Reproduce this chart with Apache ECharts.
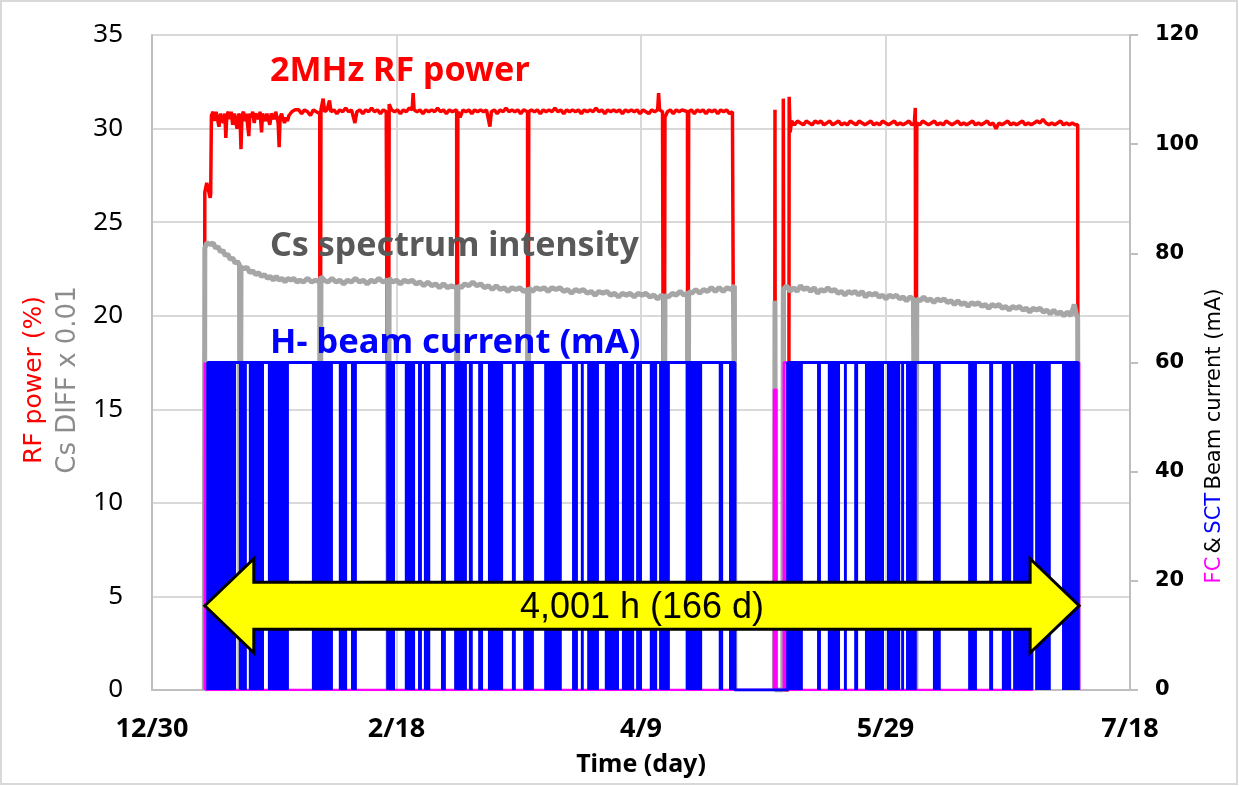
<!DOCTYPE html>
<html><head><meta charset="utf-8">
<script src="https://cdn.jsdelivr.net/npm/echarts@6/dist/echarts.min.js"></script>
<style>html,body{margin:0;padding:0;background:#fff}#c{width:1239px;height:786px}</style>
</head><body><div id="c"></div>
<script>
// x values are days after 12/30
const xTickLabels = ['12/30','2/18','4/9','5/29','7/18'];
const leftTicks = [0,5,10,15,20,25,30,35];
const rightTicks = [0,20,40,60,80,100,120];

// 2MHz RF power (%)
const rfPower = [
[10.7,0],[10.8,26.6],[11.2,27.1],[11.6,27.0],[11.9,26.3],[12.0,26.5],
[12.15,30.7],[12.5,30.9],[12.8,30.4],[13.1,30.9],[13.4,30.8],[13.7,30.1],[14.0,30.8],[14.3,30.9],[14.6,30.3],[14.9,30.8],[15.1,29.5],[15.3,30.7],[15.6,30.9],[15.9,30.5],[16.2,30.9],[16.5,30.2],[16.8,30.8],[17.1,30.9],[17.4,30.0],[17.7,30.8],[18.0,30.6],[18.2,28.9],[18.4,30.7],[18.7,30.9],[19.0,30.4],[19.3,30.8],[19.6,30.9],[19.8,29.6],[20.0,30.8],[20.3,30.6],[20.6,30.9],[20.9,30.3],[21.2,30.8],[21.5,30.9],[21.8,30.5],[22.1,30.9],[22.4,29.8],[22.6,30.8],[22.9,30.9],[23.2,30.4],[23.5,30.8],[23.8,30.9],[24.1,30.2],[24.4,30.8],[24.7,30.9],[25.0,30.5],[25.3,30.9],[25.6,30.8],[25.8,30.3],[26.0,29.0],[26.2,30.6],[26.5,30.8],[26.8,30.5],[27.1,30.3],[27.4,30.6],[27.7,30.4],[28.0,30.7],[28.3,30.6],[28.6,30.9],[28.9,30.8],[29.2,31.0],[29.5,30.9],
[30.0,31.0],[30.6,30.8],[31.2,31.0],[31.8,30.9],[32.4,30.7],[33.0,31.0],[33.6,30.9],[34.3,30.8],
[34.35,0],[34.5,0],[34.55,31.0],[35.0,31.6],[35.3,30.9],[35.8,31.0],[36.3,31.5],[36.6,30.9],[37.2,31.0],[37.8,30.8],[38.4,31.0],[39.0,30.9],[39.6,31.1],[40.2,30.9],[40.8,31.0],[41.5,30.3],[41.9,30.9],[42.5,31.0],[43.1,30.8],[43.7,31.0],[44.3,30.9],[44.9,31.1],[45.5,30.9],[46.1,31.0],[46.7,30.8],[47.3,31.0],[47.9,30.9],[48.25,31.0],
[48.3,0],[48.45,0],[48.5,31.3],[49.0,31.0],[49.6,30.9],[50.2,31.0],[50.8,30.8],[51.4,31.0],[52.0,30.9],[52.6,31.1],[53.2,31.0],[53.4,31.9],[53.6,31.0],[54.2,30.9],[54.8,31.0],[55.4,30.8],[56.0,31.0],[56.6,30.9],[57.2,31.0],[57.8,30.9],[58.4,31.1],[59.0,30.9],[59.6,31.0],[60.2,30.8],[60.8,31.0],[61.4,30.9],[62.3,31.0],
[62.35,0],[62.5,0],[62.55,30.9],[63.0,30.6],[63.6,31.0],[64.2,30.9],[64.8,31.0],[65.4,30.8],[66.0,31.0],[66.6,30.9],[67.2,31.0],[67.8,30.9],[68.4,31.0],[69.1,30.1],[69.4,30.9],[70.0,31.0],[70.6,30.8],[71.2,31.0],[71.8,30.9],[72.4,31.1],[73.0,30.9],[73.6,31.0],[74.2,30.9],[74.8,31.0],[75.4,30.8],[76.0,31.0],[76.8,30.9],
[76.85,0],[77.0,0],[77.05,30.9],[77.6,31.0],[78.2,30.9],[78.8,31.0],[79.4,30.8],[80.0,31.0],[80.6,30.9],[81.2,31.0],[81.8,30.9],[82.4,31.1],[83.0,30.9],[83.6,31.0],[84.2,30.8],[84.8,31.0],[85.4,30.9],[86.0,31.0],[86.6,30.9],[87.2,31.0],[87.8,30.8],[88.4,31.0],[89.0,30.9],[89.6,31.0],[90.2,30.9],[90.8,31.1],[91.4,30.9],[92.0,31.0],[92.6,30.8],[93.2,31.0],[93.8,30.9],[94.4,31.0],[95.0,30.9],[95.6,31.0],[96.2,30.8],[96.8,31.0],[97.4,30.9],[98.0,31.0],[98.6,30.9],[99.2,31.0],[99.8,30.8],[100.4,31.0],[101.0,30.9],[101.6,30.8],[102.2,31.0],[102.8,30.9],[103.4,31.0],[103.6,31.9],[103.8,31.0],[104.4,30.9],[104.65,30.9],
[104.7,0],[104.85,0],[104.9,30.6],[105.4,30.9],[106.0,31.0],[106.6,30.8],[107.2,31.0],[107.8,30.9],[108.4,31.0],[109.5,30.9],
[109.55,0],[109.7,0],[109.75,30.9],[110.3,31.0],[110.9,30.8],[111.5,31.0],[112.1,30.9],[112.7,31.0],[113.3,30.8],[113.9,31.0],[114.5,30.9],[115.1,31.0],[115.7,30.8],[116.3,31.0],[116.9,30.9],[117.5,31.0],[118.1,30.8],[118.7,30.9],[119.1,30.8],[119.2,0],[119.3,null],
[127.3,0],[127.4,31.0],[127.5,0],[129.0,0],[129.1,31.6],[129.3,31.5],[129.35,0],[130.2,0],[130.3,31.7],[130.5,29.8],[130.8,30.4],[131.4,30.2],[132.0,30.4],[132.6,30.3],[133.2,30.2],[133.8,30.4],[134.4,30.3],[135.0,30.2],[135.6,30.4],[136.2,30.3],[136.8,30.4],[137.4,30.2],[138.0,30.3],[138.6,30.4],[139.2,30.2],[139.8,30.3],[140.4,30.4],[141.0,30.2],[141.6,30.3],[142.2,30.2],[142.8,30.4],[143.4,30.3],[144.0,30.2],[144.6,30.4],[145.2,30.3],[145.8,30.2],[146.4,30.3],[147.0,30.4],[147.6,30.2],[148.2,30.3],[148.8,30.2],[149.4,30.4],[150.0,30.3],[150.6,30.2],[151.2,30.3],[151.8,30.4],[152.4,30.2],[153.0,30.3],[153.6,30.2],[154.2,30.3],[154.8,30.4],[155.4,30.2],[155.9,30.3],[156.1,31.1],
[156.2,0],[156.35,0],[156.4,30.3],[157.0,30.2],[157.6,30.4],[158.2,30.3],[158.8,30.2],[159.4,30.3],[160.0,30.4],[160.6,30.2],[161.2,30.3],[161.8,30.2],[162.4,30.4],[163.0,30.3],[163.6,30.2],[164.2,30.3],[164.8,30.4],[165.4,30.2],[166.0,30.3],[166.6,30.2],[167.2,30.3],[167.8,30.4],[168.4,30.2],[169.0,30.3],[169.6,30.2],[170.2,30.3],[170.8,30.4],[171.4,30.2],[172.0,30.3],[172.6,30.0],[173.2,30.3],[173.8,30.2],[174.4,30.3],[175.0,30.4],[175.6,30.2],[176.2,30.3],[176.8,30.2],[177.4,30.3],[178.0,30.4],[178.6,30.2],[179.2,30.3],[179.8,30.2],[180.4,30.3],[181.0,30.4],[181.6,30.3],[182.2,30.5],[182.8,30.3],[183.4,30.2],[184.0,30.3],[184.6,30.2],[185.2,30.3],[185.8,30.4],[186.4,30.2],[187.0,30.3],[187.6,30.2],[188.2,30.3],[188.8,30.2],[189.3,30.2],[189.4,0]
];

// Cs spectrum intensity (Cs DIFF x 0.01)
const csIntensity = [
[10.7,0],[10.8,23.6],[11.2,23.9],[11.6,24.0],[12.0,23.8],[12.5,23.9],[13.0,23.6],[13.5,23.7],[14.0,23.4],[14.5,23.5],[15.0,23.2],[15.5,23.3],[16.0,23.0],[16.5,23.1],[17.0,22.8],[17.5,22.9],[17.9,22.7],
[18.0,0],[18.15,0],[18.2,22.6],[18.8,22.5],[19.4,22.6],[20.0,22.3],[20.6,22.4],[21.2,22.2],[21.8,22.3],[22.4,22.1],[23.0,22.2],[23.6,22.0],[24.2,22.1],[24.8,21.9],[25.4,22.1],[26.0,21.9],[26.6,22.0],[27.2,21.8],[27.8,22.0],[28.4,21.9],[29.0,22.0],[29.6,21.8],[30.2,21.9],[31.0,21.8],[31.8,22.0],[32.6,21.8],[33.4,21.9],[34.3,21.8],
[34.35,0],[34.5,0],[34.55,22.1],[35.2,21.9],[36.0,21.8],[36.8,22.0],[37.6,21.8],[38.4,21.9],[39.2,21.7],[40.0,21.9],[40.8,21.8],[41.6,22.0],[42.4,21.8],[43.2,21.9],[44.0,21.7],[44.8,21.9],[45.6,21.8],[46.4,22.0],[47.2,21.8],[48.2,21.9],
[48.3,0],[48.45,0],[48.5,22.0],[49.2,21.8],[50.0,21.9],[50.8,21.7],[51.6,21.9],[52.4,21.8],[53.2,21.9],[54.0,21.7],[54.8,21.8],[55.6,21.6],[56.4,21.8],[57.2,21.6],[58.0,21.7],[58.8,21.5],[59.6,21.7],[60.4,21.5],[61.2,21.6],[62.3,21.5],
[62.35,0],[62.5,0],[62.55,21.6],[63.2,21.5],[64.0,21.7],[64.8,21.6],[65.6,21.8],[66.4,21.6],[67.2,21.7],[68.0,21.5],[68.8,21.6],[69.6,21.4],[70.4,21.6],[71.2,21.4],[72.0,21.5],[72.8,21.3],[73.6,21.5],[74.4,21.4],[75.2,21.5],[76.0,21.3],[76.8,21.4],
[76.85,0],[77.0,0],[77.05,21.5],[77.8,21.3],[78.6,21.5],[79.4,21.4],[80.2,21.5],[81.0,21.3],[81.8,21.5],[82.6,21.4],[83.4,21.5],[84.2,21.3],[85.0,21.4],[85.8,21.2],[86.6,21.4],[87.4,21.3],[88.2,21.4],[89.0,21.2],[89.8,21.3],[90.6,21.1],[91.4,21.3],[92.2,21.2],[93.0,21.3],[93.8,21.1],[94.6,21.2],[95.4,21.0],[96.2,21.2],[97.0,21.1],[97.8,21.2],[98.6,21.0],[99.4,21.2],[100.2,21.1],[101.0,21.2],[101.8,21.0],[102.6,21.1],[103.4,20.9],[104.2,21.1],[104.65,21.0],
[104.7,0],[104.85,0],[104.9,21.1],[105.6,21.0],[106.4,21.2],[107.2,21.1],[108.0,21.3],[108.8,21.1],[109.5,21.2],
[109.55,0],[109.7,0],[109.75,21.3],[110.4,21.2],[111.2,21.4],[112.0,21.2],[112.8,21.4],[113.6,21.3],[114.4,21.5],[115.2,21.3],[116.0,21.5],[116.8,21.3],[117.6,21.5],[118.4,21.4],[119.1,21.6],[119.2,0],[119.3,null],
[127.3,0],[127.4,20.8],[127.5,0],[129.0,0],[129.1,21.4],[129.8,21.6],[130.5,21.3],[131.2,21.5],[131.9,21.3],[132.6,21.6],[133.3,21.4],[134.0,21.5],[134.7,21.3],[135.4,21.5],[136.1,21.2],[136.8,21.4],[137.5,21.3],[138.2,21.5],[138.9,21.3],[139.6,21.4],[140.3,21.2],[141.0,21.3],[141.7,21.1],[142.4,21.3],[143.1,21.2],[143.8,21.3],[144.5,21.1],[145.2,21.3],[145.9,21.0],[146.6,21.2],[147.3,21.1],[148.0,21.2],[148.7,21.0],[149.4,21.1],[150.1,20.9],[150.8,21.1],[151.5,21.0],[152.2,21.1],[152.9,20.9],[153.6,21.0],[154.3,20.8],[155.0,21.0],[155.7,20.9],[156.1,21.0],
[156.2,0],[156.35,0],[156.4,20.9],[157.1,20.8],[157.8,21.0],[158.5,20.8],[159.2,20.9],[159.9,20.7],[160.6,20.9],[161.3,20.8],[162.0,20.9],[162.7,20.7],[163.4,20.8],[164.1,20.6],[164.8,20.8],[165.5,20.6],[166.2,20.7],[166.9,20.5],[167.6,20.7],[168.3,20.6],[169.0,20.7],[169.7,20.5],[170.4,20.6],[171.1,20.4],[171.8,20.6],[172.5,20.5],[173.2,20.6],[173.9,20.4],[174.6,20.5],[175.3,20.3],[176.0,20.5],[176.7,20.4],[177.4,20.5],[178.1,20.3],[178.8,20.4],[179.5,20.2],[180.2,20.4],[180.9,20.3],[181.6,20.4],[182.3,20.2],[183.0,20.3],[183.7,20.1],[184.4,20.3],[185.1,20.1],[185.8,20.2],[186.5,20.0],[187.2,20.2],[187.9,20.0],[188.6,20.6],[189.0,20.1],[189.3,19.9],[189.4,0]
];

// SCT beam current (mA): running level
const beamLevel = [[11.4,0],[11.4,60],[119.2,60],[119.2,0],[130.0,0],[130.0,60],[189.4,60],[189.4,0]];
// SCT beam trip clusters [start day, end day] (current toggling 60 <-> 0)
const beamTrips = [
[11.4,17.2],[17.8,19.4],[19.8,22.9],[23.7,28.0],[32.7,37.0],[38.2,39.9],[40.7,41.9],[47.9,49.7],[51.7,53.8],[54.4,55.2],[55.6,56.9],[59.1,60.1],[61.8,64.4],[64.8,65.6],[66.7,67.7],[68.7,71.8],[73.6,74.4],[75.9,78.1],[80.2,83.8],[85.9,87.1],[87.7,88.3],[89.0,91.4],[92.6,95.5],[96.1,98.6],[99.0,100.2],[101.8,103.3],[103.7,105.9],[109.2,112.5],[115.9,116.8],[118.0,119.2],
[130.1,133.1],[136.0,136.8],[138.2,140.7],[141.5,142.1],[143.6,144.4],[145.8,149.7],[150.3,153.0],[153.2,153.8],[154.2,156.4],[159.7,161.3],[166.9,168.7],[171.2,172.0],[173.8,175.7],[176.1,180.2],[180.6,183.8],[186.1,189.4]
];
// FC beam current (mA)
const fcCurrent = [[10.8,0],[10.8,60],[11.0,60],[11.0,0],[127.2,0],[127.2,55],[127.7,55],[127.7,0],[129.2,0],[129.2,60],[129.9,60],[129.9,0],[180.0,0],[180.0,60],[189.6,60],[189.6,0]];

// operation span arrow [start day, end day, left-axis level]
const arrowSpan = [[10.8, 189.6, 4.5]];
const arrowLabel = '4,001 h (166 d)';

const chart = echarts.init(document.getElementById('c'), null, {renderer:'canvas'});

const gridColor = '#d9d9d9', axisColor = '#bfbfbf';

const option = {
  animation: false,
  backgroundColor: '#fff',
  grid: {left:152, right:109, top:35, bottom:96, containLabel:false},
  xAxis: {
    type:'value', min:0, max:200, interval:50,
    axisLine:{show:true, lineStyle:{color:axisColor, width:2}},
    axisTick:{show:false},
    splitLine:{show:true, lineStyle:{color:gridColor, width:2}},
    axisLabel:{margin:26, color:'#000', fontSize:27, fontWeight:'bold', fontFamily:'Noto Sans',
      formatter: v => xTickLabels[Math.round(v/50)]},
    name:'Time (day)', nameLocation:'middle', nameGap:62,
    nameTextStyle:{color:'#000', fontSize:25, fontWeight:'bold', fontFamily:'Noto Sans'}
  },
  yAxis: [
    {type:'value', min:leftTicks[0], max:leftTicks[leftTicks.length-1], interval:5, position:'left',
      axisLine:{show:true, lineStyle:{color:axisColor, width:2}},
      axisTick:{show:false},
      splitLine:{show:true, lineStyle:{color:gridColor, width:2}},
      axisLabel:{margin:29, color:'#000', fontSize:26, fontFamily:'Noto Sans'}},
    {type:'value', min:rightTicks[0], max:rightTicks[rightTicks.length-1], interval:20, position:'right',
      axisLine:{show:true, lineStyle:{color:axisColor, width:2}},
      axisTick:{show:true, inside:false, length:8, lineStyle:{color:axisColor, width:2}},
      splitLine:{show:false},
      axisLabel:{margin:25, color:'#000', fontSize:21, fontWeight:'bold', fontFamily:'DejaVu Sans'}}
  ],
  series: [
    {name:'RF', type:'line', data:rfPower, yAxisIndex:0, showSymbol:false, symbol:'none', z:2,
      connectNulls:false, lineStyle:{color:'#ff0000', width:3.5}, itemStyle:{color:'#ff0000'}},
    {name:'Cs', type:'line', data:csIntensity, yAxisIndex:0, showSymbol:false, symbol:'none', z:3,
      connectNulls:false, lineStyle:{color:'#a6a6a6', width:5}, itemStyle:{color:'#a6a6a6'}},
    {name:'FC', type:'line', data:fcCurrent, yAxisIndex:1, showSymbol:false, symbol:'none', z:4,
      lineStyle:{color:'#ff00ff', width:2.5}, itemStyle:{color:'#ff00ff'}},
    {name:'SCT', type:'line', data:beamLevel, yAxisIndex:1, showSymbol:false, symbol:'none', z:5,
      lineStyle:{color:'#0000ff', width:3}, itemStyle:{color:'#0000ff'}},
    {name:'SCT trips', type:'custom', data:beamTrips, yAxisIndex:1, z:5, clip:true,
      encode:{x:[0,1]},
      renderItem:(params, api) => {
        const a = api.coord([api.value(0), 60]);
        const b = api.coord([api.value(1), 0]);
        return {type:'rect', shape:{x:a[0], y:a[1], width:Math.max(b[0]-a[0], 2), height:b[1]-a[1]},
          style:{fill:'#0000ff'}};
      }},
    {name:'span', type:'custom', data:arrowSpan, yAxisIndex:0, z:10, clip:false,
      encode:{x:[0,1], y:2},
      renderItem:(params, api) => {
        const p1 = api.coord([api.value(0), api.value(2)]);
        const p2 = api.coord([api.value(1), api.value(2)]);
        const cy = p1[1], h1 = 23.5, h2 = 47, L = 49;
        const x1 = p1[0], x2 = p2[0];
        const pts = [[x1,cy],[x1+L,cy-h2],[x1+L,cy-h1],[x2-L,cy-h1],[x2-L,cy-h2],[x2,cy],
                     [x2-L,cy+h2],[x2-L,cy+h1],[x1+L,cy+h1],[x1+L,cy+h2]];
        return {type:'group', children:[
          {type:'polygon', shape:{points:pts}, style:{fill:'#ffff00', stroke:'#000', lineWidth:3, lineJoin:'miter'}},
          {type:'text', x:(x1+x2)/2, y:cy+2, style:{text:arrowLabel, fill:'#000', font:'36px "Liberation Sans", Arial, sans-serif', align:'center', verticalAlign:'middle'}}
        ]};
      }}
  ],
  graphic: [
    {type:'rect', shape:{x:1, y:1, width:1236, height:783}, style:{fill:'none', stroke:'#d9d9d9', lineWidth:2}, z:-1, silent:true},
    {type:'text', left:270, top:54, style:{text:'2MHz RF power', fill:'#ff0000', font:'bold 34px "Noto Sans", sans-serif'}, z:20},
    {type:'text', left:270, top:229, style:{text:'Cs spectrum intensity', fill:'#595959', font:'bold 34px "Noto Sans", sans-serif'}, z:20},
    {type:'text', left:270, top:326, style:{text:'H- beam current (mA)', fill:'#0000ff', font:'bold 34.5px "Noto Sans", sans-serif'}, z:20},
    {type:'text', x:51, y:380, rotation:Math.PI/2,
      style:{text:'{r|RF power (%)}\n{g|Cs DIFF x 0.01}', align:'center', verticalAlign:'middle',
        rich:{r:{fill:'#ff0000', fontSize:25, fontFamily:'DejaVu Sans', lineHeight:34},
              g:{fill:'#8c8c8c', fontSize:26, fontFamily:'DejaVu Sans', lineHeight:34}}}, z:20},
    {type:'text', x:1215, y:436, rotation:Math.PI/2,
      style:{text:'{m|FC} {k|&} {b|SCT} {k|Beam current (mA)}', align:'center', verticalAlign:'middle',
        rich:{m:{fill:'#ff00ff', fontSize:21, fontFamily:'DejaVu Sans'},
              b:{fill:'#0000ff', fontSize:21, fontFamily:'DejaVu Sans'},
              k:{fill:'#000', fontSize:21, fontFamily:'DejaVu Sans'}}}, z:20}
  ]
};
chart.setOption(option);
</script>
</body></html>
